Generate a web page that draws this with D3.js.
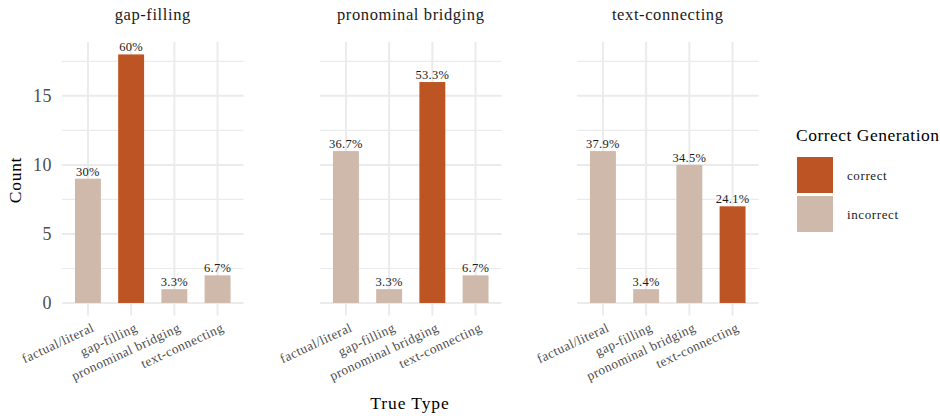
<!DOCTYPE html>
<html><head><meta charset="utf-8">
<script src="https://cdn.jsdelivr.net/npm/d3@7"></script>
<style>body{margin:0;background:#fff}svg{display:block}text{font-family:"Liberation Serif","DejaVu Serif",serif}</style>
</head><body><svg id="c" width="940" height="416"></svg>
<script>
const panels = ["gap-filling", "pronominal bridging", "text-connecting"];
const categories = ["factual/literal", "gap-filling", "pronominal bridging", "text-connecting"];
const countsGap = [9, 18, 1, 2];
const countsPron = [11, 1, 16, 2];
const countsText = [11, 1, 10, 7];
const labelsGap = ["30%", "60%", "3.3%", "6.7%"];
const labelsPron = ["36.7%", "3.3%", "53.3%", "6.7%"];
const labelsText = ["37.9%", "3.4%", "34.5%", "24.1%"];
const yTicks = [0, 5, 10, 15];
const yMinor = [2.5, 7.5, 12.5, 17.5];
const legendKeys = ["correct", "incorrect"];
const colors = {correct: "#BC5423", incorrect: "#CEB9AA"};

const counts = [countsGap, countsPron, countsText];
const labels = [labelsGap, labelsPron, labelsText];

const svg = d3.select("#c");
const plotTop = 42, plotBottom = 315.4;
const panelX = [62, 320, 577];
const pw = 181.5;
const y = d3.scaleLinear().domain([-0.9, 18.9]).range([plotBottom, plotTop]);

panels.forEach((p, i) => {
  const g = svg.append("g").attr("transform", `translate(${panelX[i]},0)`);
  const x = d3.scaleBand().domain(categories).range([0, pw]).paddingInner(0.4).paddingOuter(0.3);
  // grid
  yMinor.forEach(v => g.append("line").attr("x1", 0).attr("x2", pw).attr("y1", y(v)).attr("y2", y(v)).attr("stroke", "#ebebeb").attr("stroke-width", 1.1));
  yTicks.forEach(v => g.append("line").attr("x1", 0).attr("x2", pw).attr("y1", y(v)).attr("y2", y(v)).attr("stroke", "#ebebeb").attr("stroke-width", 2));
  categories.forEach(c => {
    const cx = x(c) + x.bandwidth() / 2;
    g.append("line").attr("x1", cx).attr("x2", cx).attr("y1", plotTop).attr("y2", plotBottom).attr("stroke", "#ebebeb").attr("stroke-width", 2);
  });
  // bars
  const data = categories.map((c, j) => ({c, v: counts[i][j], lab: labels[i][j], correct: c === p}));
  g.selectAll("rect.bar").data(data).join("rect")
    .attr("x", d => x(d.c)).attr("width", x.bandwidth())
    .attr("y", d => y(d.v)).attr("height", d => y(0) - y(d.v))
    .attr("fill", d => d.correct ? colors.correct : colors.incorrect);
  g.selectAll("text.lab").data(data).join("text")
    .attr("x", d => x(d.c) + x.bandwidth() / 2).attr("y", d => y(d.v) - 3)
    .attr("text-anchor", "middle").attr("font-size", 12.5).attr("letter-spacing", 0.3).attr("fill", "#1a1a1a").text(d => d.lab);
  // strip title
  g.append("text").attr("x", pw / 2).attr("y", 20).attr("text-anchor", "middle").attr("font-size", 16.5).attr("letter-spacing", 0.6).attr("fill", "#1a1a1a").text(p);
  // x tick labels
  categories.forEach(c => {
    const cx = x(c) + x.bandwidth() / 2;
    g.append("text").attr("transform", `translate(${cx + 3},${322}) rotate(-25)`)
      .attr("text-anchor", "end").attr("dy", "0.72em").attr("font-size", 13.3).attr("letter-spacing", 0.45).attr("fill", "#4d4d4d").text(c);
  });
  if (i === 0) {
    yTicks.forEach(v => g.append("text").attr("x", -10).attr("y", y(v)).attr("dy", "0.35em").attr("text-anchor", "end").attr("font-size", 18).attr("letter-spacing", 0.5).attr("fill", "#4d4d4d").text(v));
  }
});

svg.append("text").attr("transform", "translate(21,180) rotate(-90)").attr("text-anchor", "middle").attr("font-size", 17.5).attr("letter-spacing", 0.7).attr("fill", "#000").text("Count");
svg.append("text").attr("x", 410).attr("y", 409).attr("text-anchor", "middle").attr("font-size", 17.5).attr("letter-spacing", 0.9).attr("fill", "#000").text("True Type");

// legend
const lg = svg.append("g").attr("transform", "translate(796,0)");
lg.append("text").attr("x", 0).attr("y", 141).attr("font-size", 17.5).attr("letter-spacing", 0.5).attr("fill", "#000").text("Correct Generation");
legendKeys.forEach((k, j) => {
  lg.append("rect").attr("x", 1).attr("y", 157 + j * 39).attr("width", 36).attr("height", 36).attr("fill", colors[k]);
  lg.append("text").attr("x", 51).attr("y", 175 + j * 39).attr("dy", "0.35em").attr("font-size", 13).attr("letter-spacing", 0.6).attr("fill", "#1a1a1a").text(k);
});
</script></body></html>
